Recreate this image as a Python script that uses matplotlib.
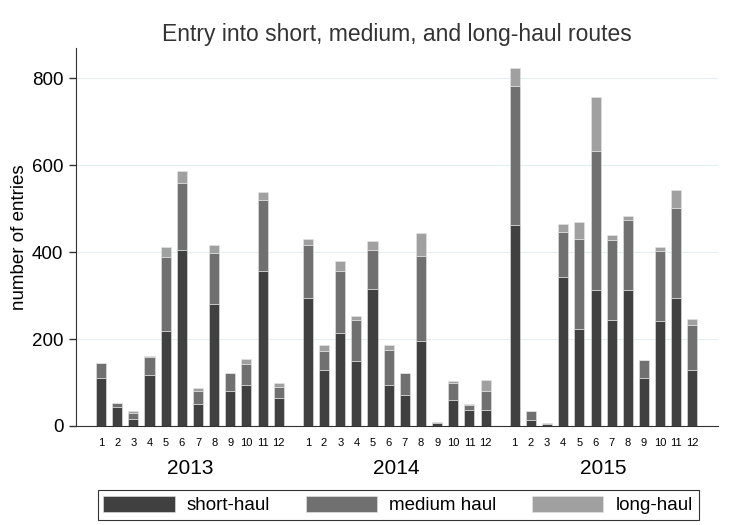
import numpy as np
import matplotlib.pyplot as plt

plt.rcParams['font.family'] = ['Liberation Sans', 'DejaVu Sans']

# --- Donnees (entrees par mois) ---
years = ["2013", "2014", "2015"]
months = list(range(1, 13))

short_2013 = [111, 44, 16, 118, 219, 406, 51, 281, 80, 95, 357, 64]
medium_2013 = [34, 10, 13, 41, 171, 154, 29, 118, 42, 47, 164, 26]
long_2013 = [1, 0, 5, 2, 23, 28, 8, 18, 0, 12, 17, 8]

short_2014 = [294, 128, 214, 150, 316, 95, 72, 195, 6, 59, 37, 37]
medium_2014 = [123, 44, 143, 94, 90, 81, 50, 197, 3, 39, 12, 43]
long_2014 = [13, 14, 23, 8, 20, 10, 0, 53, 0, 6, 2, 26]

short_2015 = [462, 14, 5, 344, 224, 314, 244, 313, 110, 242, 295, 130]
medium_2015 = [320, 20, 1, 102, 206, 319, 185, 160, 43, 160, 207, 102]
long_2015 = [42, 0, 0, 20, 40, 125, 10, 10, 0, 11, 41, 15]

shorts = [short_2013, short_2014, short_2015]
mediums = [medium_2013, medium_2014, medium_2015]
longs = [long_2013, long_2014, long_2015]

colors = {"short-haul": "#404040", "medium haul": "#707070", "long-haul": "#a0a0a0"}
group_gap = 1.8
width = 0.62

fig = plt.figure(figsize=(7.36, 5.25), dpi=100)
ax = fig.add_axes([0.103, 0.1886, 0.873, 0.72])

tick_pos, tick_lab, centers = [], [], []
for i, yr in enumerate(years):
    x = np.arange(1, 13) + i * (11 + group_gap)
    s = np.array(shorts[i]); m = np.array(mediums[i]); l = np.array(longs[i])
    kw = dict(width=width, edgecolor="#e6e6e6", linewidth=0.4)
    ax.bar(x, s, color=colors["short-haul"], label="short-haul" if i == 0 else None, **kw)
    ax.bar(x, m, bottom=s, color=colors["medium haul"], label="medium haul" if i == 0 else None, **kw)
    ax.bar(x, l, bottom=s + m, color=colors["long-haul"], label="long-haul" if i == 0 else None, **kw)
    tick_pos += list(x)
    tick_lab += [str(mo) for mo in months]
    centers.append(x.mean())

ax.set_xlim(-0.56, tick_pos[-1] + 1.6)
ax.set_ylim(0, 870)
ax.set_yticks([0, 200, 400, 600, 800])
ax.tick_params(axis="y", labelsize=13.5, length=5, width=1, pad=4, color="#333333")
ax.set_xticks(tick_pos)
ax.set_xticklabels(tick_lab, fontsize=8)
ax.tick_params(axis="x", length=0, pad=9)
ax.yaxis.grid(True, color="#e4eef2", lw=0.8)
ax.set_axisbelow(True)
for sp in ["top", "right"]:
    ax.spines[sp].set_visible(False)
for sp in ["left", "bottom"]:
    ax.spines[sp].set_color("#333333")
ax.set_ylabel("number of entries", fontsize=13.5, labelpad=3)
ax.set_title("Entry into short, medium, and long-haul routes", fontsize=16.5,
             color="#333333", pad=5)

for c, yr in zip(centers, years):
    ax.text(c, -0.112, yr, transform=ax.get_xaxis_transform(),
            ha="center", va="center", fontsize=15)

leg = fig.legend(loc="center", bbox_to_anchor=(0.541, 0.038), ncol=3,
                 fontsize=13.5, handlelength=3.8, handleheight=0.95,
                 handletextpad=0.65, columnspacing=1.9, fancybox=False,
                 edgecolor="black", borderpad=0.3, borderaxespad=0)
leg.get_frame().set_linewidth(0.8)

fig.savefig("out.png", dpi=100)
